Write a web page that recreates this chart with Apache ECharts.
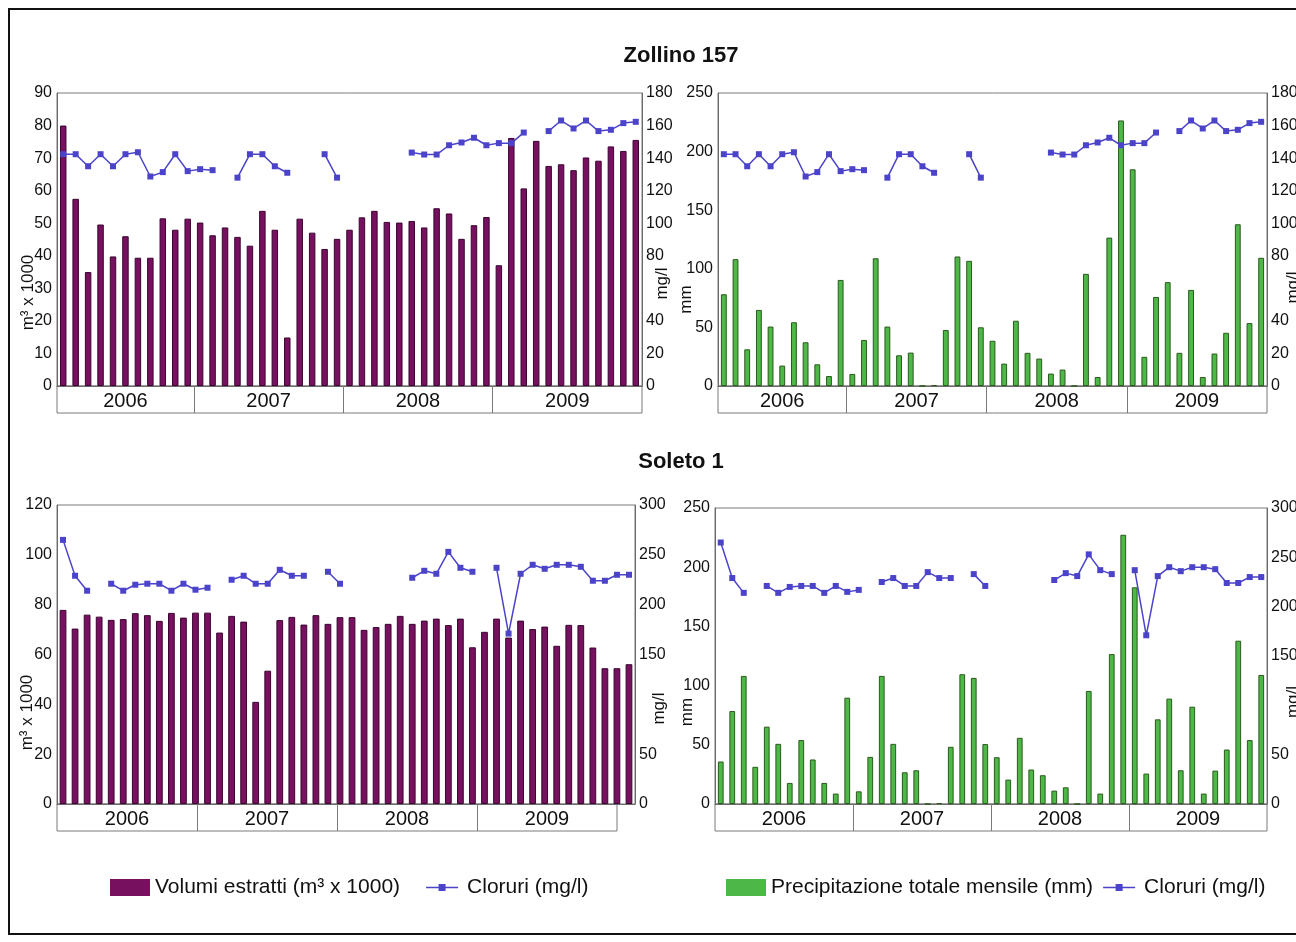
<!DOCTYPE html>
<html>
<head>
<meta charset="utf-8">
<script src="https://cdn.jsdelivr.net/npm/echarts@6/dist/echarts.min.js"></script>
<style>
  html, body { margin: 0; padding: 0; background: #ffffff; }
  #chart { width: 1296px; height: 942px; }
</style>
</head>
<body>
<div id="chart"></div>
<script>
// Years shown in the boxed strip under each panel
const anni = ['2006', '2007', '2008', '2009'];

// Monthly categories; the Zollino 157 records begin in February 2006
function mesi(primoMese) {
  const out = [];
  anni.forEach(a => {
    for (let m = 1; m <= 12; m++) {
      if (a === '2006' && m < primoMese) continue;
      out.push(a + '-' + String(m).padStart(2, '0'));
    }
  });
  return out;
}
const mesiZollino = mesi(2);   // Feb 2006 – Dec 2009
const mesiSoleto = mesi(1);    // Jan 2006 – Dec 2009

// Zollino 157 — extracted volumes (m³ x 1000)
const volumiZollino = [
  80, 57.5, 35, 49.6, 39.8, 46, 39.4, 39.4, 51.5, 48, 51.4,
  50.2, 46.3, 48.7, 45.8, 43.1, 53.8, 48, 14.9, 51.4, 47.1, 42.1, 45.2,
  48, 51.8, 53.8, 50.4, 50.2, 50.7, 48.7, 54.6, 53, 45.2, 49.4, 51.9,
  37.1, 76.2, 60.7, 75.3, 67.6, 68.1, 66.3, 70.2, 69.2, 73.6, 72.2, 75.6
];
// Zollino 157 — chlorides (mg/l), gaps where no sample was taken
const cloruriZollino = [
  142.4, 142.4, 135, 142.4, 135, 142.4, 143.6, 128.7, 131.4, 142.4, 132,
  133.2, 132.6, null, 128, 142.4, 142.4, 135, 131, null, null, 142.4, 128,
  null, null, null, null, null, 143.4, 142.2, 142.2, 147.9, 149.6, 152.5, 147.9,
  149.2, 149.2, 155.7, null, 156.6, 163.1, 158.2, 163.1, 156.6, 157.4, 161.5, 162.3
];
// Monthly total rainfall (mm), Zollino panel
const pioggiaZollino = [
  78.3, 108.2, 31.3, 64.9, 50.7, 17.4, 54.4, 37.3, 18.5, 8.5, 90.5,
  10.3, 39.3, 109, 50.7, 26.2, 28.5, 0, 0.8, 47.8, 110.5, 106.8, 50.1,
  38.6, 19.1, 55.7, 28.3, 23.4, 10.6, 14, 0, 95.7, 7.7, 126.6, 226.6,
  184.9, 24.9, 76, 88.6, 28.3, 82, 7.7, 27.7, 45.4, 138, 53.7, 109.4
];

// Soleto 1 — extracted volumes (m³ x 1000)
const volumiSoleto = [
  77.9, 70.4, 76, 75.2, 73.9, 74.2, 76.6, 75.8, 73.5, 76.7, 74.8, 76.8,
  76.8, 68.8, 75.5, 73.2, 41, 53.5, 73.8, 75.1, 72, 75.8, 72.3, 75,
  75, 69.9, 71, 72.3, 75.5, 72.3, 73.6, 74.4, 71.8, 74.4, 62.9, 69.1,
  74.4, 66.8, 73.6, 70.2, 71.2, 63.5, 71.9, 71.8, 62.8, 54.5, 54.5, 56.1
];
// Soleto 1 — chlorides (mg/l)
const cloruriSoleto = [
  265, 229, 214, null, 221, 214, 220, 221, 221, 214, 221, 215,
  217, null, 225, 229, 221, 221, 235, 229, 229, null, 233, 221,
  null, null, null, null, null, 227, 234, 231, 253, 237, 233, null,
  237, 171, 231, 240, 236, 240, 240, 238, 224, 224, 230, 230
];
// Monthly total rainfall (mm), Soleto panel
const pioggiaSoleto = [
  35.9, 78.5, 108.2, 31.4, 65.3, 50.8, 17.8, 54, 37.6, 17.8, 8.8, 89.8,
  10.7, 39.8, 108.2, 50.8, 26.8, 28.5, 0, 0.8, 48.3, 109.6, 106.5, 50.6,
  39.5, 20.6, 55.9, 29.1, 24.3, 11.3, 14.1, 0, 95.5, 8.8, 126.6, 227.4,
  183, 25.7, 71.5, 89, 28.5, 82.2, 8.8, 28.2, 46, 137.9, 54, 109
];

const NOME_VOL = 'Volumi estratti (m³ x 1000)';
const NOME_PIO = 'Precipitazione totale mensile (mm)';
const NOME_CL = 'Cloruri (mg/l)';

const FONT = '"Liberation Sans", Arial, Helvetica, sans-serif';
const TXT = '#111111';
const AXIS = '#6a6a6a';
const VIOLA = { color: '#76105F', borderColor: '#3A0530' };
const VERDE = { color: '#4DB847', borderColor: '#2A5A1C' };
const BLU = '#4B43C9';

// Legend glyph for the chloride series: short line with a small square marker
const ICONA_CL = 'path://M0,0L0.01,0L0,0.01Z M40,17L39.99,17L40,16.99Z ' +
  'M4,7.8L36,7.8L36,9.2L4,9.2Z M16.5,5L23.5,5L23.5,12L16.5,12Z';

// One entry per panel: plot box, year strip, data and axis setup
const pannelli = [
  { box: { left: 57, top: 93, width: 585, height: 293 }, strip: { left: 57, width: 585, min: 1 },
    cats: mesiZollino, barre: volumiZollino, linea: cloruriZollino, nome: NOME_VOL, stile: VIOLA, bw: '52%',
    sx: { max: 90, step: 10, nome: 'm³ x 1000', gap: 20, shift: 106 },
    dx: { max: 180, step: 20, nascosto: 60, gap: 12, shift: 88 } },
  { box: { left: 718, top: 93, width: 549, height: 293 }, strip: { left: 718, width: 549, min: 1 },
    cats: mesiZollino, barre: pioggiaZollino, linea: cloruriZollino, nome: NOME_PIO, stile: VERDE, bw: '50%',
    sx: { max: 250, step: 50, nome: 'mm', gap: 23, shift: 120 },
    dx: { max: 180, step: 20, nascosto: 60, gap: 18, shift: 96 } },
  { box: { left: 57, top: 505, width: 578, height: 299 }, strip: { left: 57, width: 560, min: 0 },
    cats: mesiSoleto, barre: volumiSoleto, linea: cloruriSoleto, nome: NOME_VOL, stile: VIOLA, bw: '56%',
    sx: { max: 120, step: 20, nome: 'm³ x 1000', gap: 21, shift: 116 },
    dx: { max: 300, step: 50, nascosto: 100, gap: 16, shift: 108 } },
  { box: { left: 715, top: 508, width: 552, height: 296 }, strip: { left: 715, width: 552, min: 0 },
    cats: mesiSoleto, barre: pioggiaSoleto, linea: cloruriSoleto, nome: NOME_PIO, stile: VERDE, bw: '50%',
    sx: { max: 250, step: 50, nome: 'mm', gap: 19, shift: 112 },
    dx: { max: 300, step: 50, nascosto: 100, gap: 18, shift: 92 } }
];

const grid = [], xAxis = [], yAxis = [], series = [];
const STRIP_H = 27;

pannelli.forEach((p, i) => {
  const g = 2 * i;
  grid.push({ ...p.box, outerBoundsMode: 'none', containLabel: false,
    show: true, borderColor: '#7a7a7a', borderWidth: 1, backgroundColor: 'transparent' });
  grid.push({ left: p.strip.left, width: p.strip.width, top: p.box.top + p.box.height, height: STRIP_H,
    outerBoundsMode: 'none', containLabel: false,
    show: true, borderColor: '#7a7a7a', borderWidth: 1, backgroundColor: 'transparent' });

  // monthly category axis of the plot
  xAxis.push({ type: 'category', gridIndex: g, data: p.cats,
    axisLine: { show: true, lineStyle: { color: AXIS } }, axisTick: { show: false }, axisLabel: { show: false } });
  // year strip: month-boundary scale with dividers at each new year
  const lo = p.strip.min;
  xAxis.push({ type: 'value', gridIndex: g + 1, min: lo, max: 48,
    axisLine: { show: false }, splitLine: { show: false },
    axisTick: { show: true, inside: true, length: STRIP_H, customValues: [12, 24, 36], lineStyle: { color: '#7a7a7a' } },
    axisLabel: { show: true, inside: true, margin: 2, customValues: [(lo + 12) / 2, 18, 30, 42],
      formatter: v => anni[Math.floor(v / 12)], fontSize: 20, color: TXT, fontFamily: FONT } });

  yAxis.push({ type: 'value', gridIndex: g, position: 'left', min: 0, max: p.sx.max, interval: p.sx.step,
    name: p.sx.nome, nameLocation: 'middle', nameRotate: 90, nameGap: p.sx.gap, nameMoveOverlap: false,
    nameTextStyle: { fontSize: 17, color: TXT, fontFamily: FONT, padding: [0, p.sx.shift, 0, 0] },
    axisLine: { show: true, lineStyle: { color: AXIS } }, axisTick: { show: false }, splitLine: { show: false },
    axisLabel: { fontSize: 16, color: TXT, fontFamily: FONT, margin: 5 } });
  yAxis.push({ type: 'value', gridIndex: g, position: 'right', min: 0, max: p.dx.max, interval: p.dx.step,
    name: 'mg/l', nameLocation: 'middle', nameRotate: 90, nameGap: p.dx.gap, nameMoveOverlap: false,
    nameTextStyle: { fontSize: 17, color: TXT, fontFamily: FONT, padding: [0, p.dx.shift, 0, 0] },
    axisLine: { show: true, lineStyle: { color: AXIS } }, axisTick: { show: false }, splitLine: { show: false },
    axisLabel: { fontSize: 16, color: TXT, fontFamily: FONT, margin: 4,
      formatter: v => (v === p.dx.nascosto ? '' : String(v)) } });
  // placeholder value axis so the strip grid forms a cartesian system
  yAxis.push({ type: 'value', gridIndex: g + 1, min: 0, max: 1, show: false });

  series.push({ type: 'bar', name: p.nome, xAxisIndex: g, yAxisIndex: 3 * i, data: p.barre,
    barWidth: p.bw, itemStyle: { color: p.stile.color, borderColor: p.stile.borderColor, borderWidth: 1 } });
  series.push({ type: 'line', name: NOME_CL, xAxisIndex: g, yAxisIndex: 3 * i + 1, data: p.linea,
    connectNulls: false, symbol: 'rect', symbolSize: 6, z: 5,
    lineStyle: { color: BLU, width: 1.5 }, itemStyle: { color: BLU } });
});

const legendaBase = { top: 877, padding: 0, itemWidth: 40, itemHeight: 17,
  itemStyle: { borderWidth: 0 },
  textStyle: { fontSize: 21, color: TXT, fontFamily: FONT } };

const option = {
  animation: false,
  backgroundColor: '#ffffff',
  textStyle: { fontFamily: FONT },
  title: [
    { text: 'Zollino 157', left: 676, top: 40, textAlign: 'center',
      textStyle: { fontSize: 22, fontWeight: 'bold', color: TXT, fontFamily: FONT } },
    { text: 'Soleto 1', left: 676, top: 446, textAlign: 'center',
      textStyle: { fontSize: 22, fontWeight: 'bold', color: TXT, fontFamily: FONT } }
  ],
  legend: [
    { ...legendaBase, left: 110, itemGap: 22,
      data: [{ name: NOME_VOL, icon: 'rect' }, { name: NOME_CL, icon: ICONA_CL }] },
    { ...legendaBase, left: 726, itemGap: 6,
      data: [{ name: NOME_PIO, icon: 'rect' }, { name: NOME_CL, icon: ICONA_CL }] }
  ],
  graphic: [
    { type: 'rect', silent: true, z: 100,
      shape: { x: 9, y: 9, width: 1300, height: 925 },
      style: { fill: 'none', stroke: '#111111', lineWidth: 2 } }
  ],
  grid, xAxis, yAxis, series
};

const chart = echarts.init(document.getElementById('chart'), null, { renderer: 'canvas' });
chart.setOption(option);
</script>
</body>
</html>
